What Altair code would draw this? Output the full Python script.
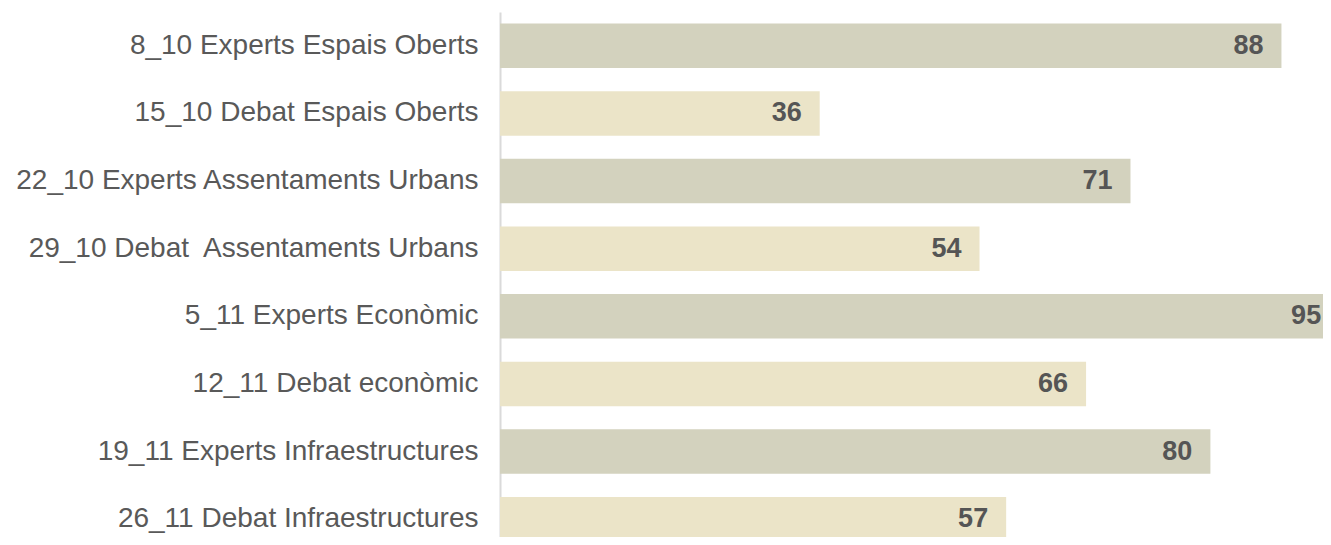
import altair as alt
import pandas as pd

sessions = [
    "8_10 Experts Espais Oberts",
    "15_10 Debat Espais Oberts",
    "22_10 Experts Assentaments Urbans",
    "29_10 Debat\u00a0 Assentaments Urbans",
    "5_11 Experts Econòmic",
    "12_11 Debat econòmic",
    "19_11 Experts Infraestructures",
    "26_11 Debat Infraestructures",
]
values = [88, 36, 71, 54, 95, 66, 80, 57]
kinds = ["Experts", "Debat", "Experts", "Debat", "Experts", "Debat", "Experts", "Debat"]
kind_order = ["Experts", "Debat"]
kind_colors = ["#d3d2be", "#ebe4c8"]

# the visible part of the value axis ends a little before the longest bar does
x_visible_max = 92.68
label_pos_max = 94.5

df = pd.DataFrame({"session": sessions, "value": values, "kind": kinds})

base = alt.Chart(df).encode(
    y=alt.Y(
        "session:N",
        sort=None,
        title=None,
        scale=alt.Scale(paddingInner=0.342, paddingOuter=0.171, range=[0, 541]),
        axis=alt.Axis(
            ticks=False,
            labelPadding=22,
            labelFontSize=28,
            labelFont="Liberation Sans",
            labelColor="#595959",
            labelLimit=1000,
            domainColor="#dadada",
            domainWidth=2,
            grid=False,
        ),
    )
)

bars = base.mark_bar().encode(
    x=alt.X("value:Q", scale=alt.Scale(domain=[0, x_visible_max], nice=False, zero=True), axis=None),
    color=alt.Color("kind:N", scale=alt.Scale(domain=kind_order, range=kind_colors), legend=None),
)

labels = base.transform_calculate(
    label_x=f"min(datum.value, {label_pos_max})"
).mark_text(
    align="right",
    baseline="middle",
    dx=-18,
    fontWeight="bold",
    fontSize=27,
    font="Liberation Sans",
    color="#555555",
).encode(
    x=alt.X("label_x:Q"),
    text=alt.Text("value:Q"),
)

chart = (
    (bars + labels)
    .properties(
        width=823,
        height=525,
        padding={"left": 492, "top": 4, "right": 0, "bottom": 0},
        autosize=alt.AutoSizeParams(type="none"),
    )
    .configure_view(stroke=None)
)

chart.save("out.html", embed_options={"renderer": "svg", "actions": False})
